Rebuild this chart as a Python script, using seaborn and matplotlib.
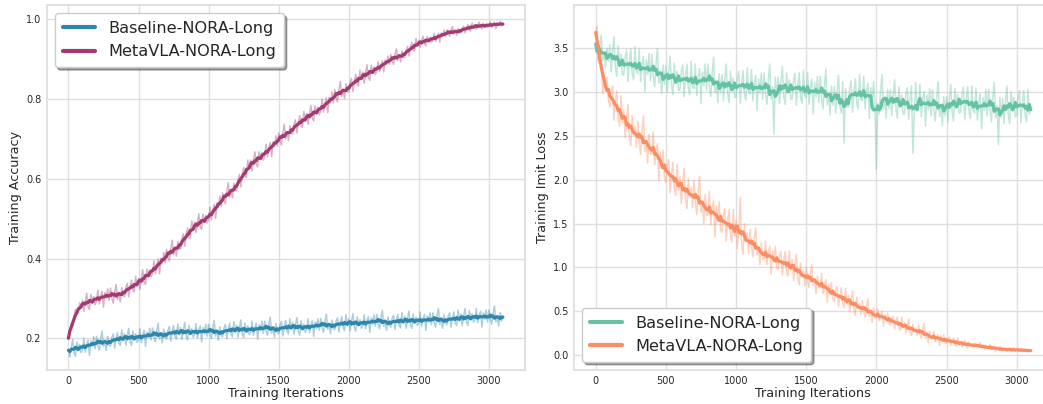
import numpy as np
import pandas as pd
import matplotlib
matplotlib.use('Agg')
import matplotlib.pyplot as plt
import seaborn as sns

# training iterations, logged every 10 steps
iterations = list(range(0, 3101, 10))

# raw training accuracy (one row = 100 iterations)
baseline_acc = [
    0.170, 0.153, 0.178, 0.197, 0.164, 0.155, 0.191, 0.172, 0.185, 0.164,
    0.171, 0.200, 0.165, 0.185, 0.196, 0.157, 0.194, 0.179, 0.204, 0.174,
    0.205, 0.182, 0.170, 0.199, 0.218, 0.179, 0.193, 0.170, 0.205, 0.183,
    0.180, 0.203, 0.211, 0.176, 0.200, 0.215, 0.188, 0.182, 0.221, 0.193,
    0.212, 0.182, 0.207, 0.225, 0.192, 0.182, 0.218, 0.199, 0.211, 0.190,
    0.196, 0.224, 0.189, 0.209, 0.220, 0.180, 0.216, 0.201, 0.225, 0.196,
    0.226, 0.202, 0.191, 0.219, 0.238, 0.198, 0.212, 0.189, 0.223, 0.202,
    0.198, 0.220, 0.229, 0.193, 0.217, 0.232, 0.204, 0.198, 0.236, 0.209,
    0.227, 0.197, 0.221, 0.240, 0.206, 0.196, 0.232, 0.212, 0.225, 0.203,
    0.209, 0.237, 0.201, 0.221, 0.231, 0.191, 0.227, 0.211, 0.235, 0.205,
    0.235, 0.211, 0.199, 0.227, 0.245, 0.205, 0.219, 0.195, 0.229, 0.207,
    0.204, 0.226, 0.235, 0.199, 0.223, 0.238, 0.210, 0.204, 0.242, 0.215,
    0.233, 0.203, 0.227, 0.246, 0.212, 0.202, 0.238, 0.218, 0.231, 0.209,
    0.215, 0.243, 0.207, 0.228, 0.238, 0.198, 0.234, 0.218, 0.243, 0.213,
    0.243, 0.219, 0.207, 0.235, 0.253, 0.213, 0.227, 0.203, 0.237, 0.215,
    0.211, 0.233, 0.242, 0.206, 0.230, 0.245, 0.217, 0.211, 0.249, 0.222,
    0.240, 0.210, 0.234, 0.252, 0.218, 0.208, 0.244, 0.224, 0.236, 0.215,
    0.221, 0.249, 0.214, 0.234, 0.244, 0.205, 0.241, 0.225, 0.249, 0.220,
    0.250, 0.226, 0.215, 0.243, 0.261, 0.222, 0.236, 0.212, 0.246, 0.225,
    0.221, 0.243, 0.251, 0.216, 0.240, 0.254, 0.226, 0.220, 0.259, 0.231,
    0.249, 0.219, 0.243, 0.262, 0.228, 0.218, 0.254, 0.234, 0.247, 0.225,
    0.231, 0.259, 0.224, 0.244, 0.254, 0.215, 0.251, 0.235, 0.259, 0.230,
    0.260, 0.236, 0.224, 0.252, 0.270, 0.230, 0.244, 0.220, 0.254, 0.232,
    0.228, 0.250, 0.258, 0.222, 0.246, 0.260, 0.232, 0.226, 0.265, 0.237,
    0.255, 0.225, 0.250, 0.268, 0.234, 0.225, 0.261, 0.241, 0.253, 0.232,
    0.238, 0.266, 0.230, 0.250, 0.260, 0.220, 0.256, 0.240, 0.264, 0.234,
    0.264, 0.240, 0.228, 0.257, 0.275, 0.235, 0.249, 0.225, 0.260, 0.238,
    0.234, 0.256, 0.264, 0.228, 0.252, 0.266, 0.238, 0.232, 0.271, 0.243,
    0.261, 0.232, 0.256, 0.275, 0.241, 0.232, 0.269, 0.249, 0.262, 0.240,
    0.247, 0.275, 0.239, 0.258, 0.268, 0.228, 0.264, 0.248, 0.271, 0.241,
    0.271, 0.247, 0.235, 0.263, 0.281, 0.241, 0.255, 0.231, 0.265, 0.243,
    0.253,
]
metavla_acc = [
    0.200, 0.219, 0.236, 0.230, 0.252, 0.272, 0.263, 0.265, 0.289, 0.278,
    0.296, 0.268, 0.293, 0.313, 0.280, 0.272, 0.310, 0.291, 0.305, 0.284,
    0.292, 0.321, 0.286, 0.306, 0.317, 0.278, 0.315, 0.300, 0.324, 0.295,
    0.326, 0.301, 0.288, 0.316, 0.335, 0.297, 0.313, 0.291, 0.327, 0.307,
    0.304, 0.328, 0.338, 0.304, 0.330, 0.346, 0.320, 0.316, 0.356, 0.330,
    0.350, 0.323, 0.351, 0.372, 0.341, 0.335, 0.374, 0.357, 0.372, 0.354,
    0.363, 0.394, 0.362, 0.385, 0.399, 0.362, 0.401, 0.389, 0.416, 0.390,
    0.423, 0.402, 0.394, 0.425, 0.446, 0.410, 0.427, 0.406, 0.443, 0.425,
    0.424, 0.450, 0.462, 0.431, 0.459, 0.477, 0.453, 0.451, 0.494, 0.470,
    0.492, 0.465, 0.491, 0.512, 0.480, 0.473, 0.511, 0.494, 0.508, 0.489,
    0.497, 0.529, 0.497, 0.522, 0.536, 0.500, 0.540, 0.528, 0.557, 0.531,
    0.565, 0.545, 0.537, 0.568, 0.590, 0.554, 0.572, 0.552, 0.589, 0.571,
    0.571, 0.598, 0.611, 0.580, 0.609, 0.628, 0.605, 0.604, 0.647, 0.624,
    0.647, 0.620, 0.647, 0.668, 0.637, 0.630, 0.668, 0.651, 0.666, 0.647,
    0.656, 0.687, 0.655, 0.678, 0.691, 0.655, 0.694, 0.681, 0.708, 0.682,
    0.715, 0.694, 0.685, 0.716, 0.737, 0.700, 0.717, 0.696, 0.733, 0.714,
    0.713, 0.738, 0.748, 0.715, 0.741, 0.758, 0.732, 0.729, 0.769, 0.744,
    0.764, 0.737, 0.763, 0.784, 0.752, 0.745, 0.783, 0.766, 0.780, 0.761,
    0.769, 0.800, 0.767, 0.790, 0.803, 0.766, 0.804, 0.791, 0.818, 0.791,
    0.824, 0.803, 0.793, 0.824, 0.844, 0.807, 0.823, 0.802, 0.838, 0.819,
    0.817, 0.842, 0.852, 0.819, 0.845, 0.862, 0.836, 0.833, 0.873, 0.848,
    0.868, 0.840, 0.866, 0.886, 0.854, 0.847, 0.885, 0.867, 0.881, 0.861,
    0.871, 0.894, 0.869, 0.886, 0.896, 0.868, 0.898, 0.887, 0.908, 0.887,
    0.912, 0.895, 0.887, 0.911, 0.926, 0.897, 0.910, 0.893, 0.921, 0.905,
    0.904, 0.924, 0.932, 0.908, 0.928, 0.942, 0.922, 0.921, 0.952, 0.933,
    0.947, 0.930, 0.946, 0.958, 0.939, 0.934, 0.957, 0.946, 0.955, 0.943,
    0.947, 0.965, 0.945, 0.958, 0.965, 0.943, 0.966, 0.957, 0.973, 0.957,
    0.974, 0.963, 0.958, 0.972, 0.982, 0.963, 0.971, 0.960, 0.977, 0.967,
    0.966, 0.978, 0.983, 0.966, 0.979, 0.987, 0.973, 0.971, 0.991, 0.978,
    0.987, 0.975, 0.985, 0.993, 0.980, 0.976, 0.990, 0.983, 0.988, 0.980,
    0.983, 0.994, 0.980, 0.989, 0.993, 0.977, 0.991, 0.985, 0.995, 0.983,
    0.988,
]

# raw training imitation loss
baseline_loss = [
    3.55, 3.48, 3.36, 3.54, 3.65, 3.36, 3.44, 3.28, 3.50, 3.35,
    3.54, 3.23, 3.46, 3.63, 3.28, 3.18, 3.53, 3.32, 3.43, 3.20,
    3.19, 3.41, 3.48, 3.12, 3.35, 3.49, 3.21, 3.14, 3.52, 3.23,
    3.21, 3.49, 3.12, 3.32, 3.41, 3.01, 3.37, 3.20, 3.44, 3.13,
    3.43, 3.18, 3.06, 3.33, 3.50, 3.10, 3.23, 2.98, 3.31, 3.09,
    3.30, 3.00, 3.24, 3.41, 3.07, 2.97, 3.33, 3.13, 3.24, 3.02,
    3.02, 3.24, 3.31, 2.95, 3.18, 3.32, 3.04, 2.97, 3.35, 3.06,
    3.04, 3.32, 2.96, 3.17, 3.27, 2.87, 3.23, 3.07, 3.32, 3.02,
    3.32, 3.07, 2.95, 3.22, 3.40, 2.99, 3.12, 2.88, 3.21, 2.99,
    3.20, 2.90, 3.14, 3.32, 2.98, 2.88, 3.24, 3.04, 3.16, 2.94,
    2.94, 3.16, 3.24, 2.87, 3.11, 3.25, 2.97, 2.91, 3.28, 3.00,
    2.98, 3.26, 2.90, 3.09, 3.19, 2.79, 3.15, 2.99, 3.22, 2.92,
    3.22, 2.98, 2.86, 3.14, 3.32, 2.92, 3.06, 2.52, 3.17, 2.95,
    3.17, 2.87, 3.11, 3.29, 2.95, 2.86, 3.22, 3.02, 3.14, 2.92,
    2.92, 3.14, 3.21, 2.85, 3.08, 3.22, 2.94, 2.87, 3.25, 2.96,
    2.94, 3.22, 2.86, 3.05, 3.15, 2.75, 3.11, 2.95, 3.18, 2.88,
    3.18, 2.93, 2.81, 3.08, 3.26, 2.85, 2.98, 2.74, 3.07, 2.85,
    3.06, 2.76, 3.01, 3.19, 2.85, 2.76, 3.12, 2.42, 3.04, 2.83,
    2.83, 3.05, 3.13, 2.77, 3.01, 3.15, 2.87, 2.81, 3.20, 2.92,
    2.90, 3.18, 2.81, 3.01, 3.10, 2.70, 3.05, 2.89, 3.12, 2.82,
    2.12, 2.87, 2.75, 3.02, 3.20, 2.80, 2.94, 2.70, 3.03, 2.81,
    3.03, 2.73, 2.97, 3.14, 2.80, 2.70, 3.06, 2.86, 2.97, 2.75,
    2.75, 2.97, 3.05, 2.69, 2.93, 3.07, 2.30, 2.73, 3.11, 2.83,
    2.81, 3.09, 2.72, 2.92, 3.01, 2.61, 2.97, 2.80, 3.04, 2.73,
    3.03, 2.79, 2.67, 2.94, 3.12, 2.72, 2.86, 2.62, 2.95, 2.73,
    2.95, 2.66, 2.91, 3.09, 2.76, 2.67, 3.04, 2.85, 2.97, 2.76,
    2.77, 2.98, 3.06, 2.69, 2.92, 3.06, 2.77, 2.70, 3.07, 2.79,
    2.76, 3.04, 2.68, 2.88, 2.98, 2.58, 2.94, 2.79, 3.03, 2.73,
    3.03, 2.79, 2.66, 2.94, 3.11, 2.71, 2.85, 2.40, 2.94, 2.71,
    2.93, 2.64, 2.88, 3.07, 2.73, 2.64, 3.01, 2.81, 2.94, 2.72,
    2.73, 2.94, 3.02, 2.65, 2.88, 3.02, 2.73, 2.66, 3.03, 2.75,
    2.80,
]
metavla_loss = [
    3.68, 3.75, 3.33, 3.36, 3.35, 2.98, 3.20, 3.02, 3.17, 2.91,
    2.83, 3.02, 3.07, 2.68, 2.89, 3.01, 2.70, 2.61, 2.96, 2.65,
    2.80, 2.48, 2.70, 2.86, 2.50, 2.39, 2.73, 2.51, 2.61, 2.37,
    2.67, 2.42, 2.29, 2.56, 2.73, 2.32, 2.44, 2.19, 2.52, 2.29,
    2.30, 2.55, 2.17, 2.34, 2.41, 1.99, 2.32, 2.13, 2.34, 2.02,
    1.97, 2.17, 2.23, 1.85, 2.07, 2.20, 1.90, 1.82, 2.18, 1.88,
    2.04, 1.73, 1.96, 2.13, 1.78, 1.67, 2.01, 1.80, 1.91, 1.68,
    1.99, 1.74, 1.60, 1.87, 2.04, 1.63, 1.75, 1.50, 1.83, 1.59,
    1.60, 1.87, 1.49, 1.68, 1.76, 1.35, 1.70, 1.52, 1.75, 1.43,
    1.40, 1.61, 1.67, 1.30, 1.53, 1.66, 1.36, 1.29, 1.66, 1.36,
    1.53, 1.22, 1.45, 1.80, 1.26, 1.15, 1.50, 1.29, 1.39, 1.16,
    1.43, 1.23, 1.12, 1.33, 1.45, 1.14, 1.23, 1.03, 1.28, 1.09,
    1.10, 1.30, 1.03, 1.17, 1.24, 0.92, 1.19, 1.06, 1.24, 1.00,
    0.97, 1.13, 1.18, 0.91, 1.08, 1.18, 0.95, 0.90, 1.19, 0.96,
    1.09, 0.85, 1.03, 1.15, 0.88, 0.80, 1.05, 0.89, 0.97, 0.79,
    1.00, 0.84, 0.77, 0.93, 1.03, 0.79, 0.87, 0.70, 0.90, 0.77,
    0.77, 0.93, 0.70, 0.80, 0.86, 0.60, 0.81, 0.70, 0.83, 0.64,
    0.61, 0.74, 0.78, 0.55, 0.68, 0.77, 0.59, 0.54, 0.76, 0.58,
    0.68, 0.49, 0.63, 0.73, 0.52, 0.45, 0.66, 0.53, 0.59, 0.46,
    0.62, 0.49, 0.43, 0.56, 0.64, 0.44, 0.50, 0.37, 0.54, 0.42,
    0.43, 0.53, 0.39, 0.46, 0.50, 0.33, 0.46, 0.40, 0.48, 0.36,
    0.34, 0.42, 0.44, 0.30, 0.39, 0.43, 0.31, 0.28, 0.43, 0.31,
    0.37, 0.25, 0.33, 0.41, 0.26, 0.22, 0.35, 0.27, 0.31, 0.22,
    0.34, 0.24, 0.19, 0.29, 0.36, 0.19, 0.24, 0.14, 0.27, 0.18,
    0.19, 0.27, 0.15, 0.21, 0.23, 0.11, 0.22, 0.16, 0.23, 0.13,
    0.135, 0.186, 0.202, 0.108, 0.164, 0.195, 0.121, 0.102, 0.193, 0.119,
    0.154, 0.092, 0.138, 0.172, 0.102, 0.080, 0.150, 0.108, 0.130, 0.084,
    0.137, 0.099, 0.079, 0.119, 0.144, 0.082, 0.101, 0.063, 0.112, 0.077,
    0.078, 0.118, 0.061, 0.089, 0.101, 0.039, 0.090, 0.064, 0.097, 0.050,
    0.051, 0.072, 0.079, 0.043, 0.066, 0.079, 0.050, 0.043, 0.081, 0.052,
    0.066, 0.042, 0.061, 0.073, 0.046, 0.039, 0.065, 0.049, 0.057, 0.040,
    0.050,
]

labels = ['Baseline-NORA-Long', 'MetaVLA-NORA-Long']


def smooth(values, k=3):
    # symmetric moving average, window shrinks at the ends
    vals = np.asarray(values, dtype=float)
    n = len(vals)
    out = np.empty(n)
    for i in range(n):
        h = min(k, i, n - 1 - i)
        out[i] = vals[i - h:i + h + 1].mean()
    return out


df = pd.DataFrame({
    'iter': iterations,
    'base_acc': baseline_acc,
    'meta_acc': metavla_acc,
    'base_loss': baseline_loss,
    'meta_loss': metavla_loss,
})
for col in ['base_acc', 'meta_acc', 'base_loss', 'meta_loss']:
    df[col + '_s'] = smooth(df[col])

sns.set_theme(style='whitegrid', rc={'grid.color': '#dedede'})
plt.rcParams['font.family'] = ['DejaVu Sans']

fig = plt.figure(figsize=(10.43, 4.04), dpi=100)
ax1 = fig.add_axes([0.0448, 0.0842, 0.4582, 0.9034])
ax2 = fig.add_axes([0.5503, 0.0842, 0.4588, 0.9034])


def draw(ax, cols, colors, ylabel, loc, ylim):
    for col, color, label in zip(cols, colors, labels):
        sns.lineplot(data=df, x='iter', y=col, ax=ax, color=color,
                     alpha=0.4, linewidth=1.1, label='_nolegend_')
        sns.lineplot(data=df, x='iter', y=col + '_s', ax=ax, color=color,
                     linewidth=2.3, label=label)
    ax.set_ylim(*ylim)
    ax.set_xlabel('Training Iterations', fontsize=9.2, labelpad=1)
    ax.set_ylabel(ylabel, fontsize=9.2, labelpad=3)
    ax.tick_params(labelsize=7, length=0, pad=4)
    for s in ax.spines.values():
        s.set_color('#dddddd')
    leg = ax.legend(loc=loc, fontsize=11.6, frameon=True, shadow=True,
                    framealpha=1, borderpad=0.5, handlelength=2.0)
    leg.get_frame().set_edgecolor('#cccccc')
    for line in leg.get_lines():
        line.set_linewidth(3)


draw(ax1, ['base_acc', 'meta_acc'], ['#2E86AB', '#A23B72'],
     'Training Accuracy', 'upper left', (0.1205, 1.036))
draw(ax2, ['base_loss', 'meta_loss'], ['#66c2a5', '#fc8d62'],
     'Training Imit Loss', 'lower left', (-0.171, 3.994))

plt.savefig('out.png', dpi=100)
plt.close()
